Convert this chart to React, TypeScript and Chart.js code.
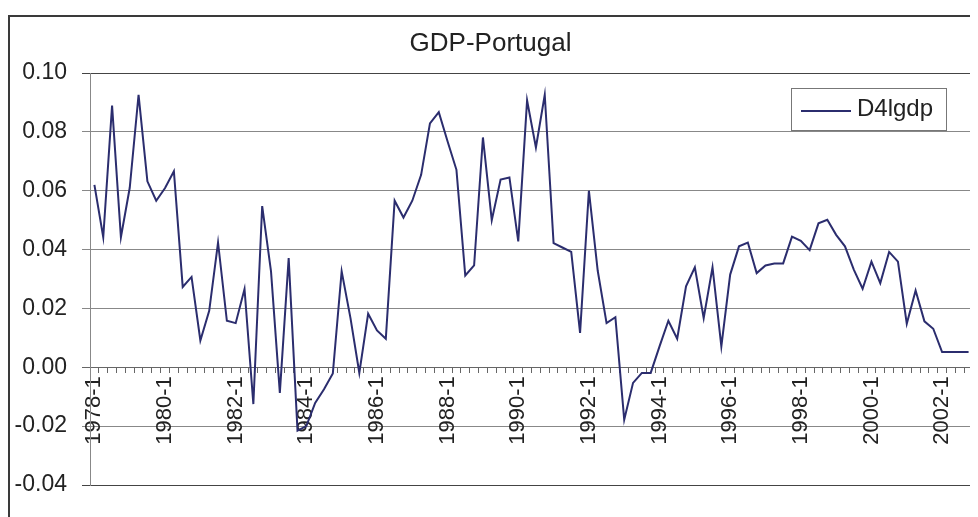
import React, { useEffect, useRef } from "react";
import { Chart, registerables } from "chart.js";

Chart.register(...registerables);

const TITLE = "GDP-Portugal";
const SERIES_NAME = "D4lgdp";
const FIRST_YEAR = 1978;
const LAST_YEAR = 2002;
const LABEL_EVERY = 8;

// Quarterly values, one row per year (Q1..Q4)
const y1978 = [0.062, 0.0442, 0.0889, 0.0442];
const y1979 = [0.061, 0.0926, 0.0632, 0.0566];
const y1980 = [0.0609, 0.0666, 0.0273, 0.0307];
const y1981 = [0.0091, 0.0192, 0.0424, 0.0158];
const y1982 = [0.015, 0.0266, -0.0125, 0.0548];
const y1983 = [0.0326, -0.0087, 0.0371, -0.0215];
const y1984 = [-0.02, -0.0121, -0.0075, -0.0021];
const y1985 = [0.0326, 0.0167, -0.0019, 0.0182];
const y1986 = [0.0125, 0.0097, 0.0566, 0.0509];
const y1987 = [0.0566, 0.0654, 0.0829, 0.0867];
const y1988 = [0.0767, 0.0671, 0.0312, 0.0346];
const y1989 = [0.0781, 0.05, 0.0638, 0.0645];
const y1990 = [0.0428, 0.0907, 0.0747, 0.0926];
const y1991 = [0.0422, 0.0407, 0.0392, 0.0117];
const y1992 = [0.06, 0.0328, 0.015, 0.017];
const y1993 = [-0.0178, -0.0053, -0.0019, -0.0019];
const y1994 = [0.0071, 0.0158, 0.0097, 0.0275];
const y1995 = [0.034, 0.0167, 0.034, 0.0071];
const y1996 = [0.0315, 0.0411, 0.0424, 0.032];
const y1997 = [0.0346, 0.0353, 0.0353, 0.0444];
const y1998 = [0.043, 0.0398, 0.0489, 0.0501];
const y1999 = [0.045, 0.0411, 0.0332, 0.0267];
const y2000 = [0.0359, 0.0286, 0.0392, 0.0359];
const y2001 = [0.0148, 0.0261, 0.0156, 0.0131];
const y2002 = [0.0052, 0.0052, 0.0052, 0.0052];

const yearRows = [
  y1978, y1979, y1980, y1981, y1982, y1983, y1984, y1985, y1986, y1987,
  y1988, y1989, y1990, y1991, y1992, y1993, y1994, y1995, y1996, y1997,
  y1998, y1999, y2000, y2001, y2002,
];

const Y_MIN = -0.04;
const Y_MAX = 0.1;
const Y_STEP = 0.02;

const categories: string[] = [];
for (let y = FIRST_YEAR; y <= LAST_YEAR; y++) {
  for (let q = 1; q <= 4; q++) categories.push(`${y}-${q}`);
}
const values: number[] = yearRows.flat();

const FONT = "'Liberation Sans', Arial, sans-serif";
const LINE_COLOR = "#2b2d6e";
const TEXT_COLOR = "#222";

const legendPlugin = {
  id: "boxLegend",
  afterDraw(chart: any) {
    const ctx = chart.ctx;
    const x0 = 783, y0 = 80, w = 155, h = 42;
    ctx.save();
    ctx.fillStyle = "#fff";
    ctx.fillRect(x0, y0, w, h);
    ctx.strokeStyle = "#777";
    ctx.lineWidth = 1;
    ctx.strokeRect(x0 + 0.5, y0 + 0.5, w, h);
    ctx.strokeStyle = LINE_COLOR;
    ctx.lineWidth = 2;
    ctx.beginPath();
    ctx.moveTo(x0 + 10, y0 + 23);
    ctx.lineTo(x0 + 60, y0 + 23);
    ctx.stroke();
    ctx.fillStyle = TEXT_COLOR;
    ctx.font = `24px ${FONT}`;
    ctx.textBaseline = "middle";
    ctx.textAlign = "left";
    ctx.fillText(SERIES_NAME, x0 + 66, y0 + 21);
    ctx.restore();
  },
};

export default function App() {
  const ref = useRef<HTMLCanvasElement | null>(null);

  useEffect(() => {
    if (!ref.current) return;
    const chart = new Chart(ref.current, {
      type: "line",
      data: {
        labels: categories,
        datasets: [
          {
            label: SERIES_NAME,
            data: values,
            borderColor: LINE_COLOR,
            backgroundColor: LINE_COLOR,
            borderWidth: 2,
            pointRadius: 0,
            tension: 0,
            fill: false,
          },
        ],
      },
      options: {
        animation: false,
        responsive: false,
        devicePixelRatio: 1,
        layout: { padding: { top: 0, left: 0, right: 5, bottom: 32 } },
        plugins: {
          legend: { display: false },
          tooltip: { enabled: false },
          title: {
            display: true,
            text: TITLE,
            color: TEXT_COLOR,
            font: { family: FONT, size: 26, weight: "normal" },
            padding: { top: 20, bottom: 13.8 },
          },
        },
        scales: {
          x: {
            type: "category",
            position: { y: 0 } as any,
            offset: true,
            afterFit: (scale: any) => {
              scale.paddingLeft = 0;
              scale.paddingRight = 0;
            },
            grid: {
              offset: true,
              drawOnChartArea: false,
              drawTicks: true,
              tickLength: 5,
              color: "#666",
            },
            border: { display: true, color: "#666", width: 1 },
            ticks: {
              autoSkip: false,
              minRotation: 90,
              maxRotation: 90,
              padding: 4,
              color: TEXT_COLOR,
              font: { family: FONT, size: 22 },
              callback: (_v: any, i: number) =>
                i % LABEL_EVERY === 0 ? categories[i] : "",
            },
          },
          y: {
            min: Y_MIN,
            max: Y_MAX,
            afterFit: (scale: any) => {
              scale.width = 82;
            },
            grid: {
              color: (c: any) => {
                const v = c.tick ? Math.round(c.tick.value * 100) / 100 : 0;
                if (v === Y_MAX || v === Y_MIN) return "#444";
                if (v === 0) return "#666";
                return "#888";
              },
              tickLength: 8,
              lineWidth: 1,
            },
            border: { display: true, color: "#888", width: 1 },
            ticks: {
              stepSize: Y_STEP,
              padding: 15,
              color: TEXT_COLOR,
              font: { family: FONT, size: 23 },
              callback: (v: any) => Number(v).toFixed(2),
            },
          },
        },
      },
      plugins: [legendPlugin],
    });
    return () => chart.destroy();
  }, []);

  return (
    <div
      style={{
        position: "relative",
        width: 970,
        height: 509,
        overflow: "hidden",
        background: "#fff",
      }}
    >
      <div
        style={{
          position: "absolute",
          left: 0,
          top: 7,
          width: 1200,
          height: 1200,
          border: "2px solid #3a3a3a",
          boxSizing: "border-box",
          pointerEvents: "none",
        }}
      />
      <canvas
        ref={ref}
        width={970}
        height={509}
        style={{ position: "absolute", left: 0, top: 0, width: 970, height: 509 }}
      />
    </div>
  );
}
